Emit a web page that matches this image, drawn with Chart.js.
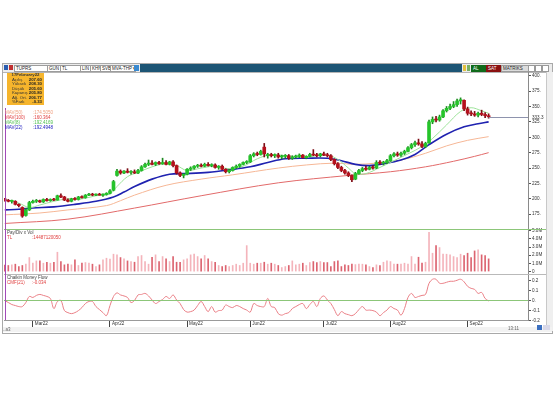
<!DOCTYPE html>
<html>
<head>
<meta charset="utf-8">
<script src="https://cdn.jsdelivr.net/npm/chart.js@4.4.0/dist/chart.umd.min.js"></script>
<style>
  body { margin:0; width:555px; height:400px; background:#fff; position:relative; overflow:hidden;
         font-family:"Liberation Sans", Arial, sans-serif; }
  .abs { position:absolute; }
  #win { left:2px; top:63px; width:549px; height:269px; border:1px solid #a9a9a9; background:#fff; }
  #bar { left:3px; top:64px; width:549px; height:8px; background:#ececec; border-bottom:1px solid #b5b5b5; }
  #dark { left:140px; top:64px; width:322px; height:8px; background:#1d5575; }
  .btn { top:65px; height:5px; background:#fff; border:1px solid #9c9c9c; font-size:4.5px; line-height:5px; padding:0 1px; color:#222; white-space:nowrap; overflow:hidden; }
  #info { left:7px; top:73px; width:37px; height:32px; background:#f6b52c; font-size:4.3px; line-height:4.5px; color:#333; }
  #info .t { text-align:center; font-weight:bold; }
  #info .r { display:flex; justify-content:space-between; padding:0 2px 0 5px; }
  #info .r b { font-weight:bold; color:#222; }
  .lg { font-size:4.5px; line-height:5px; white-space:pre; }
  #chartBox { left:4px; top:72px; width:542px; height:258px; }
  #scroll { left:546px; top:72px; width:6px; height:259px; background:#efefef; border-left:1px solid #c8c8c8; }
  #status { left:3px; top:327px; width:549px; height:5px; background:#f2f2f2; }
</style>
</head>
<body>
<div id="win" class="abs"></div>
<div id="bar" class="abs"></div>
<div id="dark" class="abs"></div>
<div class="abs" style="left:4px;top:65px;width:4px;height:5px;background:#2a5db0"></div>
<div class="abs" style="left:9px;top:65px;width:4px;height:5px;background:#c03030"></div>
<div class="abs btn" style="left:14px;width:30px">TUPRS</div>
<div class="abs btn" style="left:47px;width:10px">GUN</div>
<div class="abs btn" style="left:60px;width:18px">TL</div>
<div class="abs btn" style="left:80px;width:8px">LIN</div>
<div class="abs btn" style="left:90px;width:8px">KHN</div>
<div class="abs btn" style="left:100px;width:8px">SVB</div>
<div class="abs btn" style="left:110px;width:22px">MVA-THP ▾</div>
<div class="abs" style="left:134px;top:65px;width:5px;height:6px;background:#3a8ad0"></div>
<div class="abs" style="left:463px;top:65px;width:3px;height:6px;background:#e2c040"></div>
<div class="abs" style="left:467px;top:65px;width:3px;height:6px;background:#7ab060"></div>
<div class="abs btn" style="left:471px;width:12px;background:#0f6a1a;color:#fff;border-color:#0f6a1a">AL</div>
<div class="abs btn" style="left:486px;width:12px;background:#8a1010;color:#fff;border-color:#8a1010">SAT</div>
<div class="abs btn" style="left:501px;width:24px;background:#dcdcdc">MATRIKS</div>
<div class="abs" style="left:528px;top:65px;width:5px;height:5px;background:#fff;border:1px solid #999"></div>
<div class="abs" style="left:535px;top:65px;width:5px;height:5px;background:#fff;border:1px solid #999"></div>
<div class="abs" style="left:542px;top:65px;width:5px;height:5px;background:#fff;border:1px solid #999"></div>

<div id="scroll" class="abs"></div>
<div id="status" class="abs"></div>
<div id="chartBox" class="abs"><canvas id="c" width="542" height="258"></canvas></div>

<div id="info" class="abs">
  <div class="t">17February22</div>
  <div class="r"><span>Açılış</span><b>207.60</b></div>
  <div class="r"><span>Yüksek</span><b>208.30</b></div>
  <div class="r"><span>Düşük</span><b>205.60</b></div>
  <div class="r"><span>Kapanış</span><b>205.80</b></div>
  <div class="r"><span>Ağ. Ort.</span><b>206.77</b></div>
  <div class="r"><span>%Fark</span><b>-0.33</b></div>
</div>
<div class="abs lg" style="left:5px;top:110px;color:#f0a080">MAV(50)</div>
<div class="abs lg" style="left:33px;top:110px;color:#f0a080">:174.5050</div>
<div class="abs lg" style="left:5px;top:115px;color:#e04040">MAV(100)</div>
<div class="abs lg" style="left:33px;top:115px;color:#e04040">:160.364</div>
<div class="abs lg" style="left:5px;top:120px;color:#50c050">MAV(8)</div>
<div class="abs lg" style="left:33px;top:120px;color:#50c050">:192.4169</div>
<div class="abs lg" style="left:5px;top:125px;color:#2020c0">MAV(22)</div>
<div class="abs lg" style="left:33px;top:125px;color:#2020c0">:192.4948</div>

<div class="abs lg" style="left:7px;top:230px;color:#444">Pay/Div x Vol</div>
<div class="abs lg" style="left:7px;top:235px;color:#e04040">TL</div>
<div class="abs lg" style="left:32px;top:235px;color:#e04040">:14487120050</div>
<div class="abs lg" style="left:7px;top:275px;color:#444">Chaikin Money Flow</div>
<div class="abs lg" style="left:7px;top:280px;color:#e04040">CMF(21)</div>
<div class="abs lg" style="left:32px;top:280px;color:#e04040">:-0.034</div>
<div class="abs lg" style="left:3px;top:327px;color:#666">..a3</div>
<div class="abs lg" style="left:508px;top:326px;color:#666">13:11</div>
<div class="abs" style="left:537px;top:325px;width:5px;height:5px;background:#3a6fc0"></div>
<div class="abs" style="left:543px;top:325px;width:7px;height:5px;background:#d8d8e8"></div>

<script>
// ---------------------------------------------------------
// DATA (one entry per trading day)
// ---------------------------------------------------------
const opens  = [200,197,196,196,191,186,173,182,194,196,197,195,199,197,199,198,205,203,198,196,
                200,199,203,202,206,207,206,207,206,207,209,214,238,245,242,245,243,244,242,246,
                252,256,258,256,259,257,259,256,260,254,242,238,240,248,250,253,254,253,256,254,
                255,251,253,248,244,246,251,253,256,259,260,270,273,272,284,270,272,270,271,268,
                269,270,266,268,269,271,267,269,272,271,270,273,271,270,264,257,251,246,242,238,
                232,241,246,249,248,251,250,259,258,259,262,270,273,271,274,277,283,288,291,289,
                285,291,325,329,328,333,343,347,350,353,359,360,346,339,338,336,339,337,335];
const highs  = [201,199,198,197,192,187,184,196,198,199,198,200,201,200,201,206,208,204,200,201,
                202,204,205,207,209,209,208,209,208,210,215,230,248,247,246,249,246,247,248,254,
                258,263,262,260,261,266,262,261,262,255,244,241,249,252,254,256,257,258,259,257,
                257,254,255,249,248,252,255,257,260,262,272,275,276,279,290,274,274,273,274,271,
                272,272,270,271,273,272,270,274,280,274,274,276,274,272,265,259,253,248,244,239,
                243,248,251,253,253,254,262,262,261,264,272,275,276,276,279,285,290,294,297,293,
                292,328,333,334,336,345,350,354,358,362,364,361,349,343,342,341,344,340,338];
const lows   = [196,195,193,190,187,170,172,181,193,194,194,194,196,196,197,198,202,197,195,195,
                198,198,201,201,205,205,205,206,204,206,208,213,237,240,241,242,240,241,241,245,
                251,254,255,254,256,256,255,255,252,240,236,234,239,246,248,251,252,252,253,252,
                250,248,247,242,242,245,249,251,255,257,259,268,270,271,268,266,268,267,266,265,
                266,264,264,266,267,266,265,268,270,268,268,270,268,262,255,249,244,240,236,228,
                231,240,244,246,247,248,249,256,255,257,261,268,269,269,272,276,281,285,287,283,
                283,290,322,325,326,332,341,345,348,350,354,343,336,335,334,333,335,332,331];
const closes = [197,196,197,191,189,172,182,194,196,197,195,199,197,199,198,205,203,198,196,200,
                199,203,202,206,207,206,207,206,207,209,213,228,245,242,245,243,244,242,246,252,
                256,258,256,259,257,259,256,260,254,242,238,240,248,250,253,254,253,256,254,255,
                251,253,248,244,246,251,253,256,259,260,270,273,272,277,273,272,270,271,268,269,
                270,266,268,269,271,267,269,272,271,270,273,271,270,264,257,251,246,242,238,231,
                241,246,249,248,251,250,259,258,259,262,270,273,271,274,277,283,288,291,289,285,
                290,325,329,328,333,343,347,350,353,359,361,346,339,338,336,339,337,335,333.3];

// volume, millions
const volumes = [0.80,0.74,0.82,0.90,0.61,0.74,0.90,1.71,1.02,1.30,1.30,1.02,1.14,1.02,1.14,2.36,1.22,0.82,0.90,0.82,
                 1.43,0.74,1.02,1.10,1.02,0.90,0.61,0.82,1.43,1.63,1.51,2.12,2.04,1.71,1.55,1.30,1.22,1.14,1.83,1.96,
                 1.22,0.90,1.75,2.04,1.22,1.83,1.55,1.22,1.83,1.14,1.14,1.43,1.55,2.04,2.12,1.83,1.55,1.96,1.55,1.22,
                 1.14,0.74,0.61,0.74,0.61,0.74,0.90,0.74,1.02,3.17,1.02,0.90,1.02,1.02,1.14,0.90,1.02,0.90,0.74,0.49,
                 0.61,0.74,1.30,0.82,0.90,1.02,0.74,1.10,1.22,1.10,1.22,1.10,1.10,0.61,1.22,1.30,0.61,0.82,0.74,0.90,
                 0.85,0.90,0.90,0.82,0.61,0.49,0.82,0.74,1.14,1.30,1.22,0.90,0.90,0.90,1.02,0.90,1.83,0.90,1.75,1.02,
                 1.14,4.80,2.24,3.17,2.93,2.12,2.12,2.04,1.83,1.71,2.12,1.96,2.24,1.71,2.52,2.65,2.04,1.96,1.55];

// Chaikin money flow
const cmf = [0.00,-0.02,-0.04,-0.05,-0.06,-0.06,-0.02,0.04,0.03,0.05,0.06,0.05,0.04,0.02,-0.08,-0.01,0.00,-0.10,-0.12,-0.13,
             -0.12,-0.10,-0.07,-0.03,-0.01,-0.01,-0.06,-0.09,-0.12,-0.15,-0.05,0.04,0.075,0.055,0.045,0.03,-0.02,0.00,0.055,0.06,
             0.07,0.045,0.005,-0.03,-0.01,0.01,0.04,0.02,0.055,0.005,-0.03,-0.09,-0.115,-0.11,-0.095,-0.05,-0.01,-0.06,-0.11,-0.06,
             -0.115,-0.10,-0.095,-0.045,-0.06,-0.07,-0.05,-0.06,-0.08,-0.095,-0.115,-0.03,-0.05,-0.06,-0.06,0.02,-0.06,-0.07,-0.13,-0.145,
             -0.13,-0.12,-0.08,-0.06,-0.04,-0.03,-0.08,-0.04,-0.01,-0.06,0.02,0.045,0.005,-0.03,-0.09,-0.15,-0.11,-0.13,-0.14,-0.15,
             -0.13,-0.09,-0.06,-0.095,-0.095,-0.10,-0.115,-0.15,-0.12,-0.095,-0.06,-0.08,-0.095,-0.145,-0.08,0.03,0.07,0.03,0.04,0.05,
             0.06,0.17,0.21,0.21,0.17,0.17,0.18,0.19,0.19,0.20,0.21,0.185,0.14,0.12,0.11,0.07,0.08,0.02,-0.005];

// moving averages, read at a few bar positions each
const ma8Idx  = [0,4,7,10,14,18,22,26,30,32,35,38,42,46,49,52,56,60,64,68,72,76,80,86,92,95,98,100,103,107,111,115,119,122,126,130,133,136,138];
const ma8Val  = [199,193,186,190,196,200,200,205,208,220,236,243,252,257,254,246,250,253,249,253,265,272,270,268,271,264,250,241,241,251,262,273,285,298,320,342,348,343,339];
const ma22Idx = [0,4,8,14,20,26,31,34,37,42,47,52,58,64,70,75,80,86,92,96,100,104,108,113,117,121,126,131,135,138];
const ma22Val = [182,183,185,187,191,196,203,211,220,232,240,241,243,247,252,259,265,266,266,262,256,254,257,263,272,288,305,317,322,325];
const ma50Idx = [0,10,18,29,33,37,46,56,65,78,86,94,100,106,113,120,126,132,138];
const ma50Val = [174,177,182,189,197,206,222,232,239,250,255,258,256,258,263,274,286,295,301];
const ma100Idx = [0,18,37,56,78,98,110,120,128,134,138];
const ma100Val = [160,167,185,205,226,238,244,252,261,269,275];

// axis ticks
const priceTicks = [175,200,225,250,275,300,325,350,375,400];
const volTicks = [0,1,2,3,4,5];
const cmfTicks = [-0.2,-0.1,0,0.1,0.2];
const monthIdx = [8,30,52,70,91,110,132];
const monthLabels = ['Mar22','Apr22','May22','Jun22','Jul22','Aug22','Sep22'];

// ---------------------------------------------------------
// BUILD
// ---------------------------------------------------------
const UP = '#25c42a', DOWN = '#b5101c';
const isUp = closes.map((c, i) => c >= opens[i]);
const pts = (idx, vals) => idx.map((x, k) => ({ x: x, y: vals[k] }));

const tiny = { size: 4.6, family: 'Liberation Sans' };
const noPad = s => { s.paddingTop = 0; s.paddingBottom = 0; s.paddingLeft = 0; s.paddingRight = 0; };

function yAxis(stackWeight, min, max, ticks, fmt) {
    return {
        type: 'linear', position: 'right', stack: 'panes', stackWeight: stackWeight,
        min: min, max: max, offset: false,
        afterBuildTicks: s => { s.ticks = ticks.map(v => ({ value: v })); },
        afterFit: s => { s.width = 18; noPad(s); },
        ticks: { font: tiny, color: '#333', padding: 1, autoSkip: false, callback: fmt },
        grid: { drawOnChartArea: false, tickLength: 3, color: '#555' },
        border: { display: true, color: '#8a8a8a' }
    };
}

const lastPrice = closes[closes.length - 1];

const decor = {
    id: 'decor',
    afterDatasetsDraw(chart) {
        const ctx = chart.ctx, a = chart.chartArea;
        const sx = chart.scales.x, sp = chart.scales.y, sv = chart.scales.yVol, sc = chart.scales.yCmf;
        ctx.save();
        // pane separators
        ctx.lineWidth = 1;
        ctx.strokeStyle = '#8cc679';
        ctx.beginPath(); ctx.moveTo(a.left, Math.round(sv.top) + 0.5); ctx.lineTo(chart.width, Math.round(sv.top) + 0.5); ctx.stroke();
        const z = Math.round(sc.getPixelForValue(0)) + 0.5;
        ctx.beginPath(); ctx.moveTo(a.left, z); ctx.lineTo(a.right, z); ctx.stroke();
        ctx.strokeStyle = '#b9b9b9';
        ctx.beginPath(); ctx.moveTo(a.left, Math.round(sc.top) + 0.5); ctx.lineTo(chart.width, Math.round(sc.top) + 0.5); ctx.stroke();
        // last price line
        const ly = Math.round(sp.getPixelForValue(lastPrice)) + 0.5;
        ctx.strokeStyle = '#8e93ad';
        ctx.beginPath(); ctx.moveTo(sx.getPixelForValue(closes.length - 1), ly); ctx.lineTo(a.right, ly); ctx.stroke();
        ctx.font = '4.6px "Liberation Sans"';
        ctx.fillStyle = '#333';
        ctx.textBaseline = 'middle';
        ctx.fillText(lastPrice.toFixed(1), a.right + 4, ly);
        // cursor line
        const cx = Math.round(sx.getPixelForValue(0)) + 0.5;
        ctx.strokeStyle = '#a24ab8';
        ctx.beginPath(); ctx.moveTo(cx, 36); ctx.lineTo(cx, a.bottom); ctx.stroke();
        ctx.restore();
    }
};

new Chart(document.getElementById('c'), {
    data: {
        datasets: [
            { type: 'bar', data: closes.map((c, i) => ({ x: i, y: [lows[i], highs[i]] })),
              backgroundColor: isUp.map(u => u ? '#1e8a22' : '#7c0b14'), barThickness: 1, grouped: false, order: 1 },
            { type: 'bar', data: closes.map((c, i) => ({ x: i, y: [opens[i], c] })),
              backgroundColor: isUp.map(u => u ? UP : DOWN), barThickness: 3, minBarLength: 1, grouped: false, order: 0 },
            { type: 'line', data: pts(ma100Idx, ma100Val), borderColor: '#e26a6a', borderWidth: 1, order: 5 },
            { type: 'line', data: pts(ma50Idx, ma50Val), borderColor: '#f6b796', borderWidth: 1, order: 5 },
            { type: 'line', data: pts(ma22Idx, ma22Val), borderColor: '#1f22b0', borderWidth: 1.6, order: 4 },
            { type: 'line', data: pts(ma8Idx, ma8Val), borderColor: '#9de39a', borderWidth: 1, order: 3 },
            { type: 'bar', yAxisID: 'yVol', data: volumes.map((v, i) => ({ x: i, y: v })),
              backgroundColor: isUp.map(u => u ? '#f4b4bb' : '#dc6470'), barThickness: 1, grouped: false, order: 2 },
            { type: 'line', yAxisID: 'yCmf', data: cmf.map((v, i) => ({ x: i, y: v })),
              borderColor: '#ea7f86', borderWidth: 1, order: 2 }
        ]
    },
    options: {
        responsive: false,
        animation: false,
        maintainAspectRatio: false,
        layout: { padding: 0, autoPadding: false },
        elements: { point: { radius: 0 }, line: { tension: 0.35 } },
        plugins: { legend: { display: false }, tooltip: { enabled: false } },
        scales: {
            x: {
                type: 'linear', position: 'bottom', min: -0.23, max: 149.23, offset: false,
                afterBuildTicks: s => { s.ticks = monthIdx.map(v => ({ value: v })); },
                afterFit: s => { s.height = 10; noPad(s); },
                ticks: { font: tiny, color: '#333', align: 'start', padding: -6, labelOffset: 2, autoSkip: false, maxRotation: 0,
                         callback: (v, i) => monthLabels[i] },
                grid: { drawOnChartArea: false, offset: false, tickLength: 7, color: '#444' },
                border: { display: true, color: '#9a9a9a' }
            },
            y: yAxis(157, 151, 406, priceTicks, v => v + '.'),
            yVol: yAxis(45, -0.3, 5.2, volTicks, v => v === 0 ? '0' : v.toFixed(1) + 'M'),
            yCmf: yAxis(46, -0.193, 0.262, cmfTicks, v => v === 0 ? '0.' : v.toFixed(1))
        }
    },
    plugins: [decor]
});
</script>
</body>
</html>
